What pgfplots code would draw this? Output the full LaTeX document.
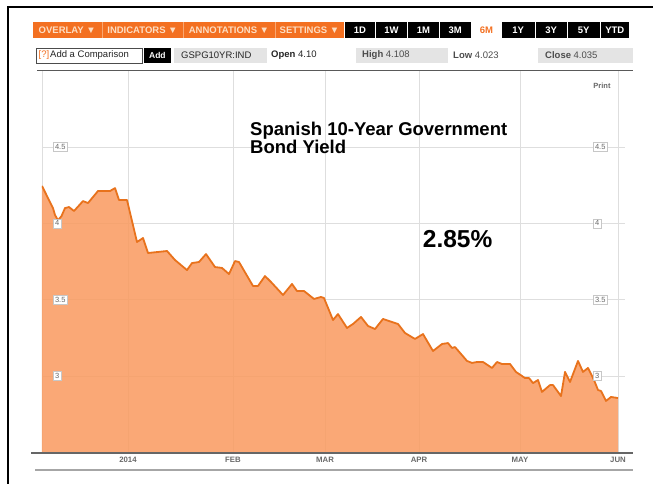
\documentclass[border=0pt]{standalone}
\usepackage{fontspec}
\setmainfont{Liberation Sans}
\usepackage{pgfplots}
\pgfplotsset{compat=1.18}
\definecolor{areafill}{RGB}{249,156,99}
\definecolor{lineor}{RGB}{232,114,28}
\definecolor{btnor}{RGB}{243,112,33}
\definecolor{btntxt}{RGB}{253,222,195}
\definecolor{gridc}{RGB}{222,222,222}
\definecolor{lblgray}{RGB}{105,105,105}
\definecolor{rowgray}{RGB}{228,228,228}

\pgfplotstableread{
x y
42 4.245
53 4.100
55 4.055
58 4.02
61.5 4.048
65 4.100
69 4.107
74 4.081
83 4.146
88 4.133
98 4.212
110 4.212
115 4.231
119 4.153
127 4.153
137 3.878
143 3.904
148 3.806
157 3.812
167 3.819
175 3.760
187 3.694
192 3.740
199 3.747
206 3.799
215 3.714
222 3.708
229 3.668
235 3.753
239 3.747
253 3.590
258 3.590
265 3.655
271 3.616
283 3.531
292 3.603
297 3.557
304 3.557
314 3.505
321 3.518
324 3.511
333 3.367
338 3.406
347 3.315
353 3.341
361 3.387
368 3.328
375 3.308
383 3.374
392 3.354
398 3.341
405 3.282
415 3.243
423 3.275
433 3.164
442 3.210
448 3.216
452 3.184
455 3.190
467 3.099
472 3.086
477 3.092
483 3.092
492 3.053
497 3.092
502 3.079
510 3.079
516 3.027
525 2.987
529 2.987
533 2.954
538 2.974
542 2.896
550 2.941
553 2.941
561 2.869
565 3.027
570 2.961
578 3.099
583 3.027
588 3.053
594 2.974
598 2.909
601 2.902
606 2.837
611 2.863
618 2.856
}\yielddata

\begin{document}
\begin{tikzpicture}[x=1pt,y=1pt]
\useasboundingbox (0,0) rectangle (653,484);
% frame
\draw[black,line width=2pt] (7.5,0) -- (7.5,476.5) -- (653,476.5);

% toolbar
\fill[btnor] (32.5,446) rectangle (344,462);
\foreach \sx in {102,183,275}{\draw[btntxt!50!btnor,line width=0.8pt] (\sx,446) -- (\sx,462);}
\begin{scope}[every node/.style={font=\bfseries\fontsize{9.5}{10}\selectfont,text=btntxt,inner sep=0pt}]
\node at (67.25,454) {OVERLAY ▼};
\node at (142.5,454) {INDICATORS ▼};
\node at (229,454) {ANNOTATIONS ▼};
\node at (309.5,454) {SETTINGS ▼};
\end{scope}
\begin{scope}[every node/.style={font=\bfseries\fontsize{9.5}{10}\selectfont,text=white,inner sep=0pt}]
\fill[black] (345,446) rectangle (375,462); \node at (360,454) {1D};
\fill[black] (376,446) rectangle (407,462); \node at (391.5,454) {1W};
\fill[black] (408,446) rectangle (439,462); \node at (423.5,454) {1M};
\fill[black] (440,446) rectangle (470.5,462); \node at (455.25,454) {3M};
\node[text=btnor] at (486.5,454) {6M};
\fill[black] (502,446) rectangle (534.5,462); \node at (518.25,454) {1Y};
\fill[black] (535.5,446) rectangle (567,462); \node at (551.25,454) {3Y};
\fill[black] (568,446) rectangle (599.5,462); \node at (583.75,454) {5Y};
\fill[black] (600.5,446) rectangle (629,462); \node at (614.75,454) {YTD};
\end{scope}

% comparison row
\draw[black!70,line width=0.6pt,fill=white] (36.7,421) rectangle (142.5,436);
\begin{scope}[every node/.style={font=\fontsize{9.5}{10}\selectfont,inner sep=0pt,anchor=west}]
\node[text=btnor] at (38.5,428.5) {[?]};
\node[text=black!85] at (50,428.5) {Add a Comparison};
\fill[black] (143.8,421) rectangle (171,436);
\node[anchor=center,text=white,font=\bfseries\fontsize{8.5}{9}\selectfont] at (157.4,428.5) {Add};
\fill[rowgray] (174,421) rectangle (267,436);
\node[text=black!85] at (181,428.5) {GSPG10YR:IND};
\node[text=black!85] at (271,428.5) {\textbf{Open} 4.10};
\fill[rowgray] (356,421) rectangle (448,436);
\node[text=black!70] at (362,428.5) {\textbf{High} 4.108};
\node[text=black!70] at (453,428.5) {\textbf{Low} 4.023};
\fill[rowgray] (537.5,421) rectangle (633,436);
\node[text=black!70] at (545,428.5) {\textbf{Close} 4.035};
\end{scope}
\draw[black!65,line width=0.8pt] (37,414) -- (633,414);

\begin{axis}[
  at={(42pt,31pt)}, anchor=south west,
  width=576pt, height=382pt, scale only axis,
  xmin=42, xmax=618, ymin=2.496, ymax=4.998,
  axis line style={draw=none},
  major tick length=0pt,
  xtick={42,128,233,325,419,520,618},
  xticklabels={,2014,FEB,MAR,APR,MAY,JUN},
  xticklabel style={font=\bfseries\fontsize{7.8}{8}\selectfont, text=lblgray, anchor=center, yshift=-6.5pt},
  ytick={3,3.5,4,4.5},
  yticklabels={},
  xmajorgrids, ymajorgrids,
  grid style={gridc, line width=0.9pt},
  clip mode=individual,
]
\addplot[draw=none, fill=areafill, fill opacity=0.88] table[x=x,y=y] {\yielddata} \closedcycle;
\addplot[lineor, line width=1.8pt, line join=round, no marks] table[x=x,y=y] {\yielddata};
\pgfplotsinvokeforeach{3,3.5,4,4.5}{
  \draw[gridc, line width=0.9pt] (axis cs:618,#1) -- (axis cs:625,#1);
  \node[draw=black!22, fill=white, line width=0.4pt, inner sep=1.8pt, anchor=west,
        font=\fontsize{7.5}{8}\selectfont, text=lblgray] at (axis cs:53,#1) {#1};
  \node[draw=black!22, fill=white, line width=0.4pt, inner sep=1.8pt, anchor=west,
        font=\fontsize{7.5}{8}\selectfont, text=lblgray] at (axis cs:593,#1) {#1};
}
\end{axis}

% bottom lines
\draw[black!60, line width=1.5pt] (31,31) -- (633,31);
\draw[black!35, line width=2pt] (35,14) -- (633,14);

% texts
\node[anchor=center, font=\bfseries\fontsize{7.5}{8}\selectfont, text=black!60] at (602,398) {Print};
\node[anchor=base west, inner sep=0pt, font=\bfseries\fontsize{18.5}{20}\selectfont] at (250,348.5) {Spanish 10-Year Government};
\node[anchor=base west, inner sep=0pt, font=\bfseries\fontsize{18.5}{20}\selectfont] at (250,330.5) {Bond Yield};
\node[anchor=base west, inner sep=0pt, font=\bfseries\fontsize{24.5}{26}\selectfont] at (422.7,236.3) {2.85\%};
\end{tikzpicture}
\end{document}
